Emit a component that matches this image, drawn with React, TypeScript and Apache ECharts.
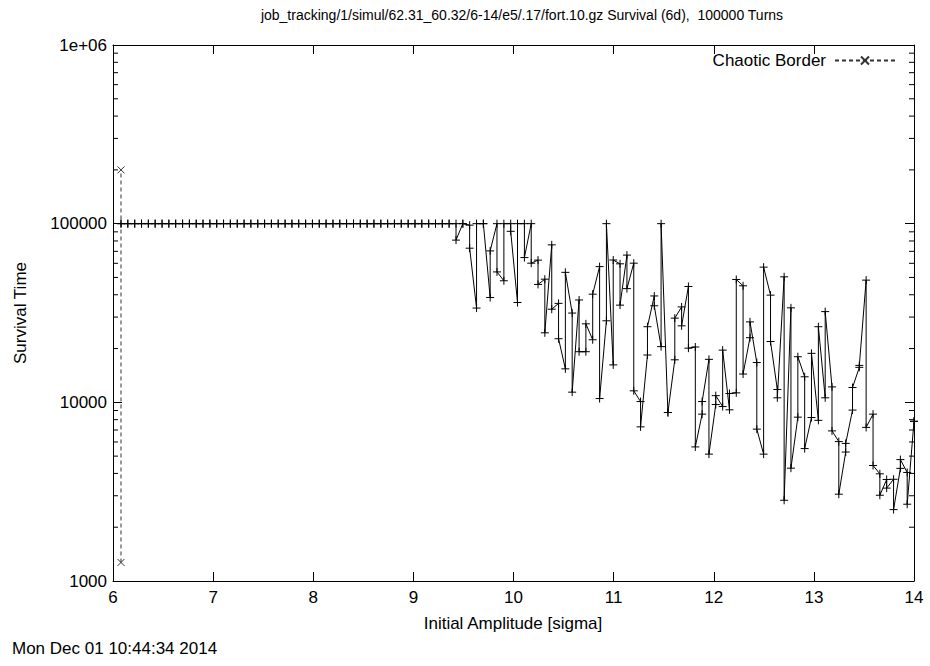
import React, { useEffect, useRef } from "react";
import * as echarts from "echarts";

// Initial amplitude of each particle pair [sigma]
const amplitudes = [
  6.080, 6.148, 6.217, 6.285, 6.353, 6.421, 6.490, 6.558, 6.626, 6.695,
  6.763, 6.831, 6.899, 6.968, 7.036, 7.104, 7.172, 7.241, 7.309, 7.377,
  7.446, 7.514, 7.582, 7.650, 7.719, 7.787, 7.855, 7.924, 7.992, 8.060,
  8.128, 8.197, 8.265, 8.333, 8.402, 8.470, 8.538, 8.606, 8.675, 8.743,
  8.811, 8.879, 8.948, 9.016, 9.084, 9.153, 9.221, 9.289, 9.357, 9.426,
  9.494, 9.562, 9.631, 9.699, 9.767, 9.835, 9.904, 9.972, 10.040, 10.109,
  10.177, 10.245, 10.313, 10.382, 10.450, 10.518, 10.586, 10.655, 10.723, 10.791,
  10.860, 10.928, 10.996, 11.064, 11.133, 11.201, 11.269, 11.338, 11.406, 11.474,
  11.542, 11.611, 11.679, 11.747, 11.816, 11.884, 11.952, 12.020, 12.089, 12.157,
  12.225, 12.293, 12.362, 12.430, 12.498, 12.567, 12.635, 12.703, 12.771, 12.840,
  12.908, 12.976, 13.045, 13.113, 13.181, 13.249, 13.318, 13.386, 13.454, 13.522,
  13.591, 13.659, 13.727, 13.796, 13.864, 13.932, 14.000,
];

// Survival time of the first particle of each pair
const survivalFirst = [
  100000, 100000, 100000, 100000, 100000, 100000, 100000, 100000, 100000, 100000,
  100000, 100000, 100000, 100000, 100000, 100000, 100000, 100000, 100000, 100000,
  100000, 100000, 100000, 100000, 100000, 100000, 100000, 100000, 100000, 100000,
  100000, 100000, 100000, 100000, 100000, 100000, 100000, 100000, 100000, 100000,
  100000, 100000, 100000, 100000, 100000, 100000, 100000, 100000, 100000, 100000,
  100000, 98100, 33700, 100000, 38600, 100000, 47900, 100000, 36200, 100000,
  100000, 62500, 48900, 76100, 35800, 15400, 31600, 37400, 19200, 22400,
  57500, 28600, 16200, 59600, 66700, 60100, 10100, 18400, 39400, 20500,
  8770, 17300, 34200, 44500, 20400, 8590, 17400, 9720, 9470, 9080,
  11300, 44900, 23000, 16700, 5130, 39800, 11800, 50400, 33800, 8260,
  13900, 8220, 7930, 10600, 12200, 6030, 5270, 9050, 15700, 48300,
  8590, 3980, 3700, 3710, 4270, 4050, 7830,
];

// Survival time of the second particle of each pair
const survivalSecond = [
  100000, 100000, 100000, 100000, 100000, 100000, 100000, 100000, 100000, 100000,
  100000, 100000, 100000, 100000, 100000, 100000, 100000, 100000, 100000, 100000,
  100000, 100000, 100000, 100000, 100000, 100000, 100000, 100000, 100000, 100000,
  100000, 100000, 100000, 100000, 100000, 100000, 100000, 100000, 100000, 100000,
  100000, 100000, 100000, 100000, 100000, 100000, 100000, 100000, 100000, 80900,
  100000, 72900, 100000, 100000, 70400, 53700, 100000, 90600, 100000, 64600,
  60100, 45700, 24500, 33200, 22700, 53400, 11400, 19200, 27500, 40300,
  10500, 100000, 62600, 35000, 43300, 11600, 7290, 26500, 34700, 100000,
  8770, 29600, 26800, 20100, 5630, 10100, 5130, 10900, 19600, 11200,
  48700, 14400, 28200, 7080, 57100, 21900, 10600, 2830, 4280, 18000,
  5510, 18800, 26500, 32200, 6920, 3060, 5890, 12100, 16100, 7240,
  4430, 3020, 3310, 2510, 4780, 2690, 7830,
];

// Chaotic border marker
const chaoticAmplitude = [6.08, 6.08];
const chaoticSurvival = [1270, 200000];

const xTicks = [6, 7, 8, 9, 10, 11, 12, 13, 14];
const yTickValues = [1000, 10000, 100000, 1000000];
const yTickLabels = ["1000", "10000", "100000", "1e+06"];
const minorTickValues = [
  2000, 3000, 4000, 5000, 6000, 7000, 8000, 9000,
  20000, 30000, 40000, 50000, 60000, 70000, 80000, 90000,
  200000, 300000, 400000, 500000, 600000, 700000, 800000, 900000,
];

const titleText =
  "job_tracking/1/simul/62.31_60.32/6-14/e5/.17/fort.10.gz Survival (6d),  100000 Turns";
const xName = "Initial Amplitude [sigma]";
const yName = "Survival Time";
const dateText = "Mon Dec 01 10:44:34 2014";
const legendName = "Chaotic Border";

const FONT = "'Liberation Sans', Arial, Helvetica, sans-serif";
const FS_TITLE = 14;
const FS = 17;

export default function App() {
  const ref = useRef<HTMLDivElement>(null);

  useEffect(() => {
    if (!ref.current) return;
    const chart = echarts.init(ref.current, undefined, { renderer: "svg" });

    const survivalData: number[][] = [];
    amplitudes.forEach((a, i) => {
      survivalData.push([a, survivalFirst[i]]);
      survivalData.push([a, survivalSecond[i]]);
    });
    const chaoticData = chaoticAmplitude.map((a, i) => [a, chaoticSurvival[i]]);
    const minorData: number[][] = [];
    minorTickValues.forEach((v) => {
      minorData.push([xTicks[0], v]);
      minorData.push([xTicks[xTicks.length - 1], v]);
    });

    const axisCommon = {
      axisLine: { show: true, lineStyle: { color: "#000", width: 1 } },
      axisTick: { show: true, inside: true, length: 9, lineStyle: { color: "#000", width: 1 } },
      splitLine: { show: false },
    };

    const labelStyle = { color: "#000", fontSize: FS, fontFamily: FONT };

    chart.setOption({
      animation: false,
      backgroundColor: "#fff",
      textStyle: { fontFamily: FONT },
      grid: { left: 113, right: 16, top: 45, bottom: 85, show: false },
      legend: {
        data: [legendName],
        right: 34,
        top: 52,
        align: "right",
        itemWidth: 60,
        itemHeight: 10,
        padding: 0,
        textStyle: { ...labelStyle, padding: [0, 4, 0, 0] },
        selectedMode: false,
      },
      graphic: [
        {
          type: "text",
          x: 522,
          y: 15,
          style: {
            text: titleText,
            fill: "#000",
            font: `${FS_TITLE}px ${FONT}`,
            textAlign: "center",
            textVerticalAlign: "middle",
          },
        },
        {
          type: "text",
          x: 513,
          y: 623,
          style: {
            text: xName,
            fill: "#000",
            font: `${FS}px ${FONT}`,
            textAlign: "center",
            textVerticalAlign: "middle",
          },
        },
        {
          type: "text",
          x: 20,
          y: 313,
          rotation: Math.PI / 2,
          style: {
            text: yName,
            fill: "#000",
            font: `${FS}px ${FONT}`,
            textAlign: "center",
            textVerticalAlign: "middle",
          },
        },
        {
          type: "text",
          x: 12,
          y: 648,
          style: {
            text: dateText,
            fill: "#000",
            font: `${FS}px ${FONT}`,
            textAlign: "left",
            textVerticalAlign: "middle",
          },
        },
      ],
      xAxis: [
        {
          type: "value",
          min: xTicks[0],
          max: xTicks[xTicks.length - 1],
          interval: 1,
          position: "bottom",
          ...axisCommon,
          axisLabel: { ...labelStyle, margin: 8 },
        },
        {
          type: "value",
          min: xTicks[0],
          max: xTicks[xTicks.length - 1],
          interval: 1,
          position: "top",
          ...axisCommon,
          axisLabel: { show: false },
        },
      ],
      yAxis: [
        {
          type: "log",
          logBase: 10,
          min: yTickValues[0],
          max: yTickValues[yTickValues.length - 1],
          position: "left",
          ...axisCommon,
          axisLabel: {
            ...labelStyle,
            margin: 6,
            formatter: (v: number) => {
              const i = yTickValues.findIndex((t) => Math.abs(t - v) / t < 1e-6);
              return i >= 0 ? yTickLabels[i] : "";
            },
          },
        },
        {
          type: "log",
          logBase: 10,
          min: yTickValues[0],
          max: yTickValues[yTickValues.length - 1],
          position: "right",
          ...axisCommon,
          axisLabel: { show: false },
        },
      ],
      series: [
        {
          name: "Survival",
          type: "line",
          xAxisIndex: 0,
          yAxisIndex: 0,
          data: survivalData,
          symbol: "path://M0,5L10,5M5,0L5,10",
          symbolSize: 8,
          showAllSymbol: true,
          lineStyle: { color: "#000", width: 1 },
          itemStyle: { color: "rgba(0,0,0,0)", borderColor: "#000", borderWidth: 1 },
          emphasis: { disabled: true },
          z: 3,
        },
        {
          name: legendName,
          type: "line",
          xAxisIndex: 0,
          yAxisIndex: 0,
          data: chaoticData,
          symbol: "path://M0,0L10,10M10,0L0,10",
          symbolSize: 7,
          lineStyle: { color: "#333", width: 1, type: [4, 3] },
          itemStyle: { color: "rgba(0,0,0,0)", borderColor: "#333", borderWidth: 1 },
          emphasis: { disabled: true },
          z: 2,
        },
        {
          name: "minorTicks",
          type: "custom",
          xAxisIndex: 0,
          yAxisIndex: 0,
          data: minorData,
          silent: true,
          renderItem: (params: any, api: any) => {
            const x = api.value(0);
            const y = api.value(1);
            const p = api.coord([x, y]);
            const dir = x === xTicks[0] ? 1 : -1;
            return {
              type: "line",
              shape: { x1: p[0], y1: p[1], x2: p[0] + dir * 5, y2: p[1] },
              style: { stroke: "#000", lineWidth: 1 },
            };
          },
          z: 4,
        },
      ],
    });

    return () => chart.dispose();
  }, []);

  return (
    <div
      ref={ref}
      style={{ position: "fixed", left: 0, top: 0, width: 930, height: 666, background: "#fff" }}
    />
  );
}
